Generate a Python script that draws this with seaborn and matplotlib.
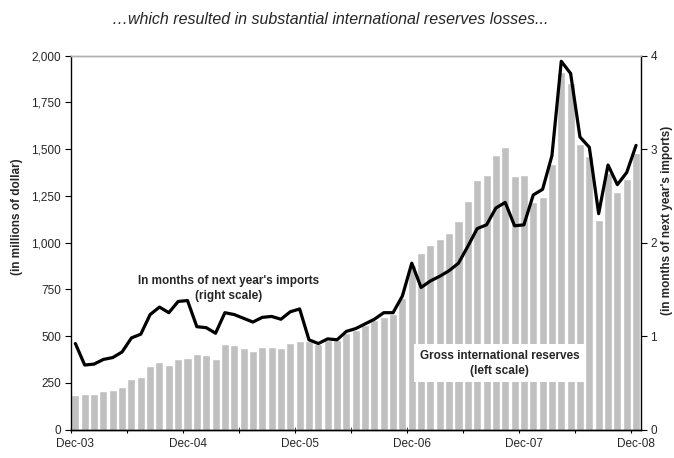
import numpy as np
import pandas as pd
import matplotlib
matplotlib.use("Agg")
import matplotlib.pyplot as plt
import seaborn as sns

# monthly data, Dec-03 .. Dec-08
months = pd.date_range("2003-12-01", "2008-12-01", freq="MS").strftime("%b-%y").tolist()

# gross international reserves, millions of dollars (left scale)
reserves = [184, 189, 189, 205, 210, 227, 269, 280, 339, 360, 344, 376,
            382, 403, 398, 376, 457, 451, 435, 419, 441, 441, 435, 462,
            473, 473, 457, 478, 478, 517, 532, 558, 585, 603, 617, 705,
            880, 946, 987, 1019, 1053, 1115, 1222, 1335, 1361, 1468, 1511, 1356,
            1361, 1216, 1245, 1420, 1914, 1852, 1527, 1463, 1120, 1370, 1270, 1340,
            1481]

# in months of next year's imports (right scale)
import_months = [0.92, 0.69, 0.70, 0.75, 0.77, 0.83, 0.98, 1.02, 1.23, 1.31, 1.25, 1.37,
                 1.38, 1.10, 1.09, 1.03, 1.25, 1.23, 1.19, 1.15, 1.20, 1.21, 1.18, 1.26,
                 1.29, 0.96, 0.92, 0.97, 0.96, 1.05, 1.08, 1.13, 1.18, 1.25, 1.25, 1.43,
                 1.78, 1.52, 1.59, 1.64, 1.70, 1.78, 1.96, 2.15, 2.19, 2.37, 2.43, 2.18,
                 2.19, 2.51, 2.57, 2.93, 3.94, 3.81, 3.13, 3.02, 2.31, 2.83, 2.62, 2.75,
                 3.04]

xtick_labels = ["Dec-03", "Dec-04", "Dec-05", "Dec-06", "Dec-07", "Dec-08"]
left_ticks = [0, 250, 500, 750, 1000, 1250, 1500, 1750, 2000]
right_ticks = [0, 1, 2, 3, 4]

df = pd.DataFrame({"month": months, "reserves": reserves,
                   "imports": import_months, "pos": np.arange(len(months))})

sns.set_theme(style="white")
plt.rcParams["font.family"] = ["Liberation Sans", "DejaVu Sans"]

fig = plt.figure(figsize=(6.74, 4.58), dpi=100)
ax = fig.add_axes([0.1049, 0.0622, 0.8457, 0.8162])

sns.barplot(data=df, x="month", y="reserves", color="#c0c0c0", saturation=1,
            width=0.86, ax=ax)
ax.set_ylim(0, 2000)
ax.set_xlim(-0.5, len(months) - 0.5)

ax2 = ax.twinx()
sns.lineplot(data=df, x="pos", y="imports", color="black", linewidth=2.3, ax=ax2)
ax2.set_ylim(0, 4)
ax2.set_xlim(-0.5, len(months) - 0.5)

# x axis: boundary ticks every 6 months, labels centred on Dec bars
label_pos = [months.index(m) for m in xtick_labels]
ax.set_xticks(label_pos)
ax.set_xticklabels(xtick_labels, fontsize=8.5)
ax.tick_params(axis="x", which="major", length=0, pad=6)
ax.set_xticks(np.arange(-0.5, len(months), 6), minor=True)
ax.tick_params(axis="x", which="minor", bottom=True, length=4, width=0.8, color="black", direction="inout")
ax.set_xlabel("")

ax.set_yticks(left_ticks)
ax.set_yticklabels([f"{v:,}" for v in left_ticks], fontsize=8.5)
ax.tick_params(axis="y", left=True, length=4, width=0.8, color="black", pad=3)
ax.set_ylabel("(in millions of dollar)", fontsize=8.5, fontweight="bold")
ax.yaxis.set_label_coords(-0.083, 0.57)

ax2.set_yticks(right_ticks)
ax2.set_yticklabels([str(v) for v in right_ticks], fontsize=8.5)
ax2.tick_params(axis="y", right=True, length=4, width=0.8, color="black", pad=3)
ax2.set_ylabel("(in months of next year's imports)", fontsize=8.5, fontweight="bold")
ax2.yaxis.set_label_coords(1.035, 0.56)
ax2.set_xlabel("")

for a in (ax, ax2):
    for s in ("left", "right", "bottom"):
        a.spines[s].set_color("black")
        a.spines[s].set_linewidth(1.0)
    a.spines["top"].set_color("#b0b0b0")
    a.spines["top"].set_linewidth(1.0)
ax.spines["right"].set_visible(False)
ax2.spines["left"].set_visible(False)
ax.grid(False)
ax2.grid(False)

ax2.text(16.4, 1.51, "In months of next year's imports\n(right scale)", ha="center",
         va="center", fontsize=8.5, fontweight="bold", linespacing=1.3)
ax.text(45.4, 355, "Gross international reserves\n(left scale)", ha="center", va="center",
        fontsize=8.5, fontweight="bold", linespacing=1.3,
        bbox=dict(facecolor="white", edgecolor="none", boxstyle="square,pad=0.45"))

fig.text(0.49, 0.957, "\u2026which resulted in substantial international reserves losses...",
         ha="center", va="center", fontsize=11.5, style="italic")

fig.savefig("out.png", dpi=100)
